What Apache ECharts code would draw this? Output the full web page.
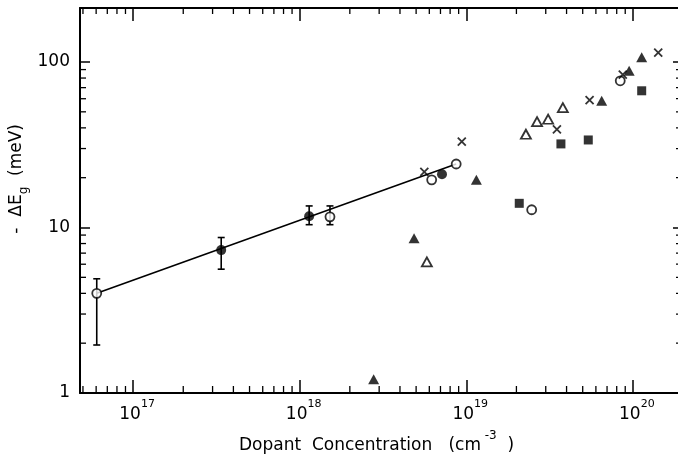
<!DOCTYPE html>
<html>
<head>
<meta charset="utf-8">
<title>Band gap narrowing vs dopant concentration</title>
<script src="https://cdn.jsdelivr.net/npm/echarts@6/dist/echarts.min.js"></script>
<style>html,body{margin:0;padding:0;background:#fff;}</style>
</head>
<body>
<div id="chart" style="width:678px;height:459px;"></div>
<script>
// values: [dopant concentration (cm^-3), -dEg (meV)]
const openCircles   = [[6.05e16, 4.0], [1.52e18, 11.6], [6.2e18, 19.4], [8.7e18, 24.2], [2.47e19, 12.8], [8.4e19, 77]];
const filledCircles = [[3.38e17, 7.3], [1.14e18, 11.7], [7.15e18, 21.0]];
const crosses       = [[5.6e18, 21.7], [9.4e18, 33.0], [3.5e19, 39.2], [5.5e19, 58.9], [8.7e19, 84], [1.42e20, 114]];
const filledTris    = [[2.78e18, 1.21], [4.86e18, 8.6], [1.15e19, 19.4], [6.5e19, 58.4], [9.5e19, 88.6], [1.13e20, 107]];
const openTris      = [[5.8e18, 6.2], [2.28e19, 36.6], [2.66e19, 43.6], [3.1e19, 45.1], [3.8e19, 53.0]];
const filledSquares = [[2.08e19, 14.0], [3.7e19, 32.0], [5.4e19, 33.8], [1.13e20, 67]];

// error bars: concentration, lower, upper
const errX    = [6.05e16, 3.38e17, 1.14e18, 1.52e18];
const errLow  = [1.95, 5.6, 10.4, 10.4];
const errHigh = [4.9, 8.7, 13.5, 13.5];

// fitted line end points
const fitLine = [[6.05e16, 4.0], [8.7e18, 24.2]];

const xMin = 4.8e16, xMax = 2e20;
const yMin = 1, yMax = 212;
const xDecades = [16, 17, 18, 19];
const yDecades = [0, 1];
const mantissas = [2, 3, 4, 5, 6, 7, 8, 9];

const FONT = 'DejaVu Sans';

const xMinor = [];
xDecades.forEach(d => mantissas.forEach(m => {
  const v = m * Math.pow(10, d);
  if (v > xMin && v < xMax) xMinor.push([v, yMin]);
}));
const yMinor = [];
yDecades.forEach(d => mantissas.forEach(m => {
  yMinor.push([xMin, m * Math.pow(10, d)]);
}));

function isPow(v) {
  const l = Math.log10(v);
  return Math.abs(l - Math.round(l)) < 1e-6;
}

const tickStyle = { stroke: '#000', lineWidth: 1.3 };

const axisBase = {
  type: 'log',
  logBase: 10,
  axisLine: { show: true, lineStyle: { color: '#000', width: 2 } },
  axisTick: { show: true, inside: true, lineStyle: { color: '#000', width: 1.5 } },
  splitLine: { show: false },
  minorTick: { show: false }
};

const option = {
  backgroundColor: '#fff',
  animation: false,
  // the right frame edge sits just outside the picture, as in the scan
  grid: { left: 80, top: 8, width: 603, height: 385, outerBoundsMode: 'none', containLabel: false },
  xAxis: [
    Object.assign({}, axisBase, {
      position: 'bottom', min: xMin, max: xMax,
      axisTick: Object.assign({}, axisBase.axisTick, { length: 13 }),
      axisLabel: {
        margin: 6,
        padding: [0, 0, 0, 8],
        formatter: v => isPow(v) ? '{b|10}{s|' + Math.round(Math.log10(v)) + '}' : '',
        rich: {
          b: { fontFamily: FONT, fontSize: 17, color: '#000', lineHeight: 24, verticalAlign: 'bottom' },
          s: { fontFamily: FONT, fontSize: 11, color: '#000', lineHeight: 12, verticalAlign: 'top' }
        }
      }
    }),
    Object.assign({}, axisBase, {
      position: 'top', min: xMin, max: xMax,
      axisTick: Object.assign({}, axisBase.axisTick, { length: 13 }),
      axisLabel: { show: false }
    })
  ],
  yAxis: [
    Object.assign({}, axisBase, {
      position: 'left', min: yMin, max: yMax,
      axisTick: Object.assign({}, axisBase.axisTick, { length: 10 }),
      axisLabel: {
        margin: 10,
        fontFamily: FONT, fontSize: 17, color: '#000',
        formatter: v => isPow(v) ? String(Math.round(v)) : ''
      }
    }),
    Object.assign({}, axisBase, {
      position: 'right', min: yMin, max: yMax,
      axisTick: Object.assign({}, axisBase.axisTick, { length: 10 }),
      axisLabel: { show: false }
    })
  ],
  graphic: [
    {
      type: 'text', left: 8, top: 124,
      rotation: Math.PI / 2,
      style: {
        text: '{a|-  ΔE}{g|g}{a|  (meV)}',
        rich: {
          a: { fontFamily: FONT, fontSize: 17, fill: '#000', lineHeight: 22, verticalAlign: 'top' },
          g: { fontFamily: FONT, fontSize: 12, fill: '#000', lineHeight: 12, padding: [10, 0, 0, 0], verticalAlign: 'top' }
        }
      }
    },
    {
      type: 'text', left: 239, top: 430,
      style: {
        text: '{a|Dopant  Concentration   (cm}{s| -3}{a|  )}',
        rich: {
          a: { fontFamily: FONT, fontSize: 17, fill: '#000', lineHeight: 24, verticalAlign: 'bottom' },
          s: { fontFamily: FONT, fontSize: 12, fill: '#000', lineHeight: 12, verticalAlign: 'top' }
        }
      }
    }
  ],
  series: [
    {
      type: 'custom', silent: true, z: 1,
      data: xMinor,
      renderItem: (params, api) => {
        const b = api.coord([api.value(0), yMin]);
        const t = api.coord([api.value(0), yMax]);
        return {
          type: 'group',
          children: [
            { type: 'line', shape: { x1: b[0], y1: b[1], x2: b[0], y2: b[1] - 7 }, style: tickStyle },
            { type: 'line', shape: { x1: t[0], y1: t[1], x2: t[0], y2: t[1] + 6 }, style: tickStyle }
          ]
        };
      }
    },
    {
      type: 'custom', silent: true, z: 1,
      data: yMinor,
      renderItem: (params, api) => {
        const l = api.coord([xMin, api.value(1)]);
        const r = api.coord([xMax, api.value(1)]);
        return {
          type: 'group',
          children: [
            { type: 'line', shape: { x1: l[0], y1: l[1], x2: l[0] + 6, y2: l[1] }, style: tickStyle },
            { type: 'line', shape: { x1: r[0], y1: r[1], x2: r[0] - 7, y2: r[1] }, style: tickStyle }
          ]
        };
      }
    },
    {
      type: 'line', data: fitLine, symbol: 'none', z: 2,
      lineStyle: { color: '#000', width: 1.6 }
    },
    {
      type: 'custom', silent: true, z: 3,
      data: errX.map((x, i) => [x, errLow[i], errHigh[i]]),
      encode: { x: 0, y: [1, 2] },
      renderItem: (params, api) => {
        const lo = api.coord([api.value(0), api.value(1)]);
        const hi = api.coord([api.value(0), api.value(2)]);
        const s = { stroke: '#000', lineWidth: 1.6 };
        return {
          type: 'group',
          children: [
            { type: 'line', shape: { x1: lo[0], y1: lo[1], x2: hi[0], y2: hi[1] }, style: s },
            { type: 'line', shape: { x1: lo[0] - 3.5, y1: lo[1], x2: lo[0] + 3.5, y2: lo[1] }, style: s },
            { type: 'line', shape: { x1: hi[0] - 3.5, y1: hi[1], x2: hi[0] + 3.5, y2: hi[1] }, style: s }
          ]
        };
      }
    },
    {
      type: 'scatter', data: openCircles, symbol: 'circle', symbolSize: 9, z: 5,
      itemStyle: { color: '#fff', borderColor: '#000', borderWidth: 1.8 }
    },
    {
      type: 'scatter', data: filledCircles, symbol: 'circle', symbolSize: 10, z: 5,
      itemStyle: { color: '#000' }
    },
    {
      type: 'scatter', data: crosses, symbol: 'path://M0,0L10,10M10,0L0,10', symbolSize: 8, z: 5,
      itemStyle: { color: 'transparent', borderColor: '#000', borderWidth: 1.8 }
    },
    {
      type: 'scatter', data: filledTris, symbol: 'triangle', symbolSize: [11, 10], z: 5,
      itemStyle: { color: '#000' }
    },
    {
      type: 'scatter', data: openTris, symbol: 'triangle', symbolSize: [10, 9], z: 5,
      itemStyle: { color: '#fff', borderColor: '#000', borderWidth: 1.8 }
    },
    {
      type: 'scatter', data: filledSquares, symbol: 'rect', symbolSize: 9, z: 5,
      itemStyle: { color: '#000' }
    }
  ]
};

const chart = echarts.init(document.getElementById('chart'));
chart.setOption(option);
</script>
</body>
</html>
